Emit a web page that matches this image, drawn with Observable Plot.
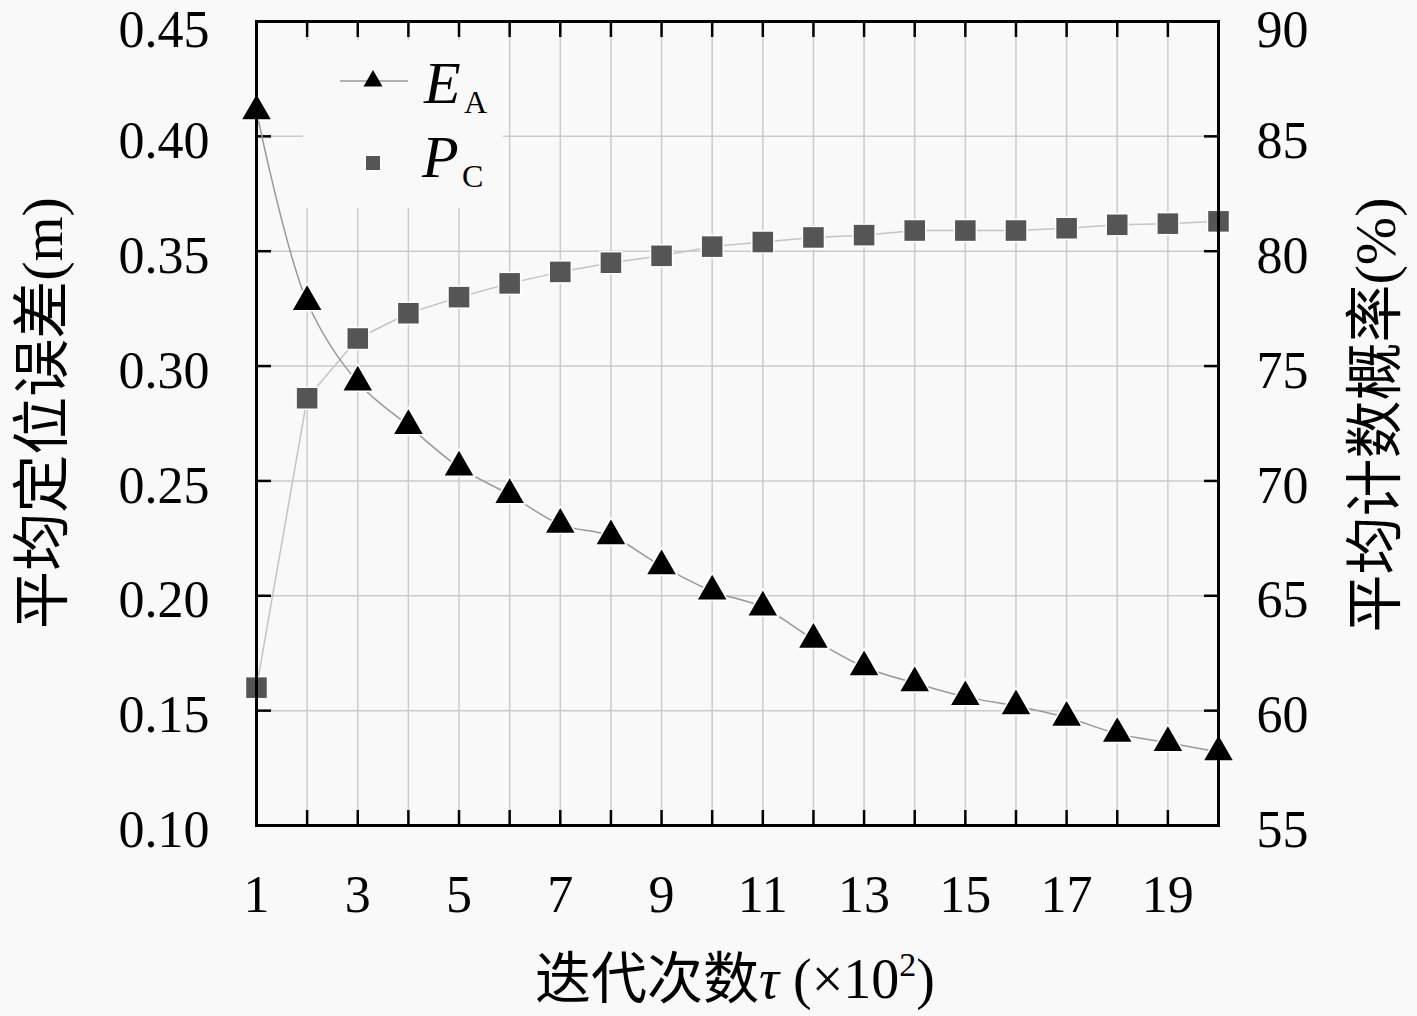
<!DOCTYPE html>
<html><head><meta charset="utf-8">
<script src="https://cdn.jsdelivr.net/npm/d3@7"></script>
<script src="https://cdn.jsdelivr.net/npm/@observablehq/plot@0.6"></script>
<style>body{margin:0;background:#f9f9f9;}</style>
</head><body><div id="chart"></div>
<script>
// ---- data ----
const iterations = [1,2,3,4,5,6,7,8,9,10,11,12,13,14,15,16,17,18,19,20];
const errorA = [0.411,0.328,0.293,0.274,0.256,0.244,0.231,0.226,0.213,0.202,0.195,0.181,0.169,0.162,0.156,0.152,0.147,0.140,0.136,0.132];
const countP = [61.0,73.6,76.2,77.3,78.0,78.6,79.1,79.5,79.8,80.2,80.4,80.6,80.7,80.9,80.9,80.9,81.0,81.15,81.2,81.3];
const xLabelTicks = [1,3,5,7,9,11,13,15,17,19];
const leftTicks = [0.10,0.15,0.20,0.25,0.30,0.35,0.40,0.45];
const rightTicks = [55,60,65,70,75,80,85,90];
const leftTitle = "平均定位误差(m)";
const rightTitle = "平均计数概率(%)";

// right scale (55..90) mapped onto left scale (0.10..0.45)
const toLeft = p => (p - 55) / 100 + 0.10;
const fromLeft = y => Math.round((y - 0.10) * 100 + 55);

const dataA = iterations.map((x, i) => ({x, y: errorA[i]}));
const dataP = iterations.map((x, i) => ({x, y: toLeft(countP[i])}));

const BG = "#f9f9f9";
const FONT = "'Liberation Serif', 'Noto Sans CJK SC', serif";
const TICKFS = 52;
const leftLow = leftTicks.slice(0, -1), leftTop = leftTicks.slice(-1);
const rightMapped = rightTicks.map(toLeft);
const rightLow = rightMapped.slice(0, -1), rightTop = rightMapped.slice(-1);

const plot = Plot.plot({
  width: 1417, height: 1016,
  marginLeft: 256, marginRight: 199, marginTop: 21, marginBottom: 191,
  style: {background: BG, fontFamily: FONT},
  x: {domain: [1, 20]},
  y: {domain: [0.10, 0.45]},
  marks: [
    Plot.gridX(iterations, {stroke: "#cbcbcb", strokeOpacity: 1, strokeWidth: 1.5}),
    Plot.gridY(leftTicks, {stroke: "#cbcbcb", strokeOpacity: 1, strokeWidth: 1.5}),
    // inward ticks
    Plot.axisX(iterations, {anchor: "bottom", tickSize: 15, dy: -15, tickFormat: () => "", strokeWidth: 2.5, label: null}),
    Plot.axisX(iterations, {anchor: "top", tickSize: 15, dy: 15, tickFormat: () => "", strokeWidth: 2.5, label: null}),
    Plot.axisY(leftTicks, {anchor: "left", tickSize: 15, dx: 15, tickFormat: () => "", strokeWidth: 2.5, label: null}),
    Plot.axisY(leftTicks, {anchor: "right", tickSize: 15, dx: -15, tickFormat: () => "", strokeWidth: 2.5, label: null}),
    // tick labels
    Plot.axisX(xLabelTicks, {anchor: "bottom", tickSize: 0, tickPadding: 50, fontSize: TICKFS, fill: "black", label: null}),
    Plot.axisY(leftLow, {anchor: "left", tickSize: 0, tickPadding: 47, fontSize: TICKFS, dy: 5, fill: "black", tickFormat: d3.format(".2f"), label: null}),
    Plot.axisY(leftTop, {anchor: "left", tickSize: 0, tickPadding: 47, fontSize: TICKFS, dy: 9, fill: "black", tickFormat: d3.format(".2f"), label: null}),
    Plot.axisY(rightLow, {anchor: "right", tickSize: 0, tickPadding: 38, fontSize: TICKFS, dy: 5, fill: "black", tickFormat: d => String(fromLeft(d)), label: null}),
    Plot.axisY(rightTop, {anchor: "right", tickSize: 0, tickPadding: 38, fontSize: TICKFS, dy: 9, fill: "black", tickFormat: d => String(fromLeft(d)), label: null}),
    // lines
    Plot.line(dataP, {x: "x", y: "y", stroke: "#c4c4c4", strokeWidth: 1.5}),
    Plot.line(dataA, {x: "x", y: "y", stroke: "#999", strokeWidth: 1.5, curve: "catmull-rom"}),
    // markers
    Plot.dot(dataP, {x: "x", y: "y", symbol: "square", r: 11.6, fill: "#555", stroke: "white", strokeWidth: 3, paintOrder: "stroke"}),
    Plot.dot(dataA, {x: "x", y: "y", symbol: "triangle", r: 10.6, fill: "black", stroke: "white", strokeWidth: 3, paintOrder: "stroke"}),
    Plot.frame({stroke: "black", strokeWidth: 3})
  ]
});
document.getElementById("chart").appendChild(plot);

const svg = d3.select(plot);
// legend
const lg = svg.append("g").attr("text-anchor", "start").attr("font-family", FONT);
lg.append("rect").attr("x", 303).attr("y", 40).attr("width", 200).attr("height", 168).attr("fill", BG);
lg.append("line").attr("x1", 340).attr("x2", 408).attr("y1", 81).attr("y2", 81).attr("stroke", "#999").attr("stroke-width", 1.5);
lg.append("path").attr("d", d3.symbol(d3.symbolTriangle, 157)()).attr("transform", "translate(373,81)").attr("fill", "black");
lg.append("path").attr("d", d3.symbol(d3.symbolSquare, 196)()).attr("transform", "translate(373,163)").attr("fill", "#555").attr("stroke", "white").attr("stroke-width", 3).attr("paint-order", "stroke");
lg.append("text").attr("x", 424).attr("y", 103).attr("font-size", 60).attr("font-style", "italic").text("E");
lg.append("text").attr("x", 464).attr("y", 113).attr("font-size", 32).text("A");
lg.append("text").attr("x", 422).attr("y", 177).attr("font-size", 60).attr("font-style", "italic").text("P");
lg.append("text").attr("x", 462).attr("y", 187).attr("font-size", 32).text("C");

// axis titles
svg.append("text").attr("transform", "translate(42,413) rotate(-90)").attr("text-anchor", "middle").attr("dominant-baseline", "central")
  .attr("font-size", 58).attr("font-family", FONT).text(leftTitle);
svg.append("text").attr("transform", "translate(1375,415) rotate(-90)").attr("text-anchor", "middle").attr("dominant-baseline", "central")
  .attr("font-size", 58).attr("font-family", FONT).text(rightTitle);
const xt = svg.append("text").attr("x", 735).attr("y", 998).attr("text-anchor", "middle").attr("font-size", 56).attr("font-family", FONT);
xt.append("tspan").text("迭代次数");
xt.append("tspan").attr("font-style", "italic").text("τ");
xt.append("tspan").text(" (×10");
xt.append("tspan").attr("font-size", 34).attr("dy", -22).text("2");
xt.append("tspan").attr("dy", 22).text(")");
</script>
</body></html>
